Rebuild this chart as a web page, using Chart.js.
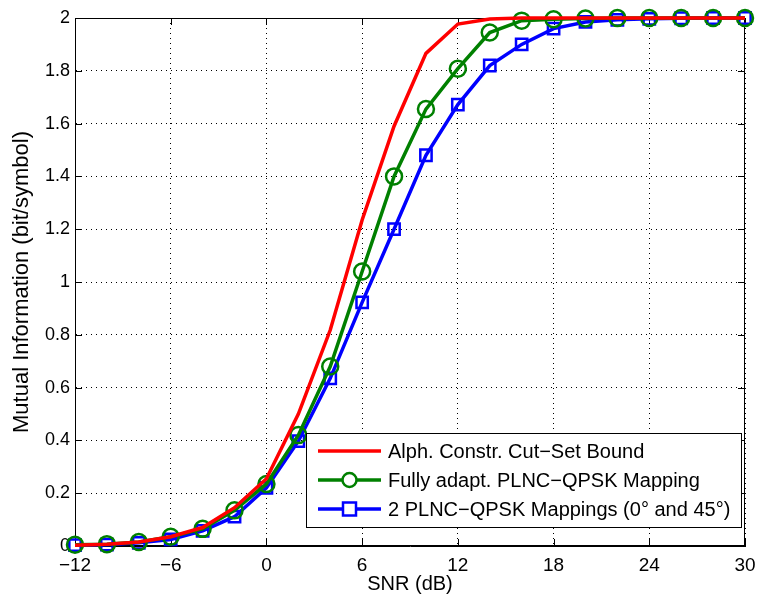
<!DOCTYPE html>
<html>
<head>
<meta charset="utf-8">
<script src="https://cdn.jsdelivr.net/npm/chart.js@4.4.0/dist/chart.umd.min.js"></script>
<style>
  html, body { margin: 0; padding: 0; background: #fff; }
  #wrap { width: 758px; height: 601px; }
</style>
</head>
<body>
<div id="wrap"><canvas id="chart" width="758" height="601"></canvas></div>
<script>
const snr = [-12, -10, -8, -6, -4, -2, 0, 2, 4, 6, 8, 10, 12, 14, 16, 18, 20, 22, 24, 26, 28, 30]

const cutSet = [0.003, 0.007, 0.015, 0.035, 0.07, 0.145, 0.255, 0.5, 0.818, 1.235, 1.59, 1.866, 1.977, 1.996, 2.0, 2.0, 2.0, 2.0, 2.0, 2.0, 2.0, 2.0]
const fullyAdapt = [0.005, 0.007, 0.015, 0.035, 0.065, 0.135, 0.235, 0.42, 0.68, 1.04, 1.40, 1.655, 1.808, 1.945, 1.99, 1.995, 1.998, 2.0, 2.0, 2.0, 2.0, 2.0]
const twoMappings = [0.003, 0.005, 0.012, 0.025, 0.057, 0.111, 0.22, 0.397, 0.635, 0.923, 1.20, 1.48, 1.672, 1.82, 1.90, 1.96, 1.985, 1.993, 1.997, 1.999, 2.0, 2.0]

const xTicks = [-12, -6, 0, 6, 12, 18, 24, 30]
const yTicks = [0, 0.2, 0.4, 0.6, 0.8, 1, 1.2, 1.4, 1.6, 1.8, 2]

const labels = [
    "Alph. Constr. Cut\u2212Set Bound",
    "Fully adapt. PLNC\u2212QPSK Mapping",
    "2 PLNC\u2212QPSK Mappings (0\u00b0 and 45\u00b0)"
]

const FONT = "'Liberation Sans', Arial, Helvetica, sans-serif"

function pts(ys) {
    return snr.map((x, i) => ({ x: x, y: ys[i] }))
}

function fmt(v) {
    return String(v).replace("-", "\u2212")
}

// box round the plot plus inward tick marks, like matlab
const boxPlugin = {
    id: "box",
    beforeDatasetsDraw(chart) {
        const ctx = chart.ctx
        const a = chart.chartArea
        const xs = chart.scales.x
        const ys = chart.scales.y
        ctx.save()
        ctx.strokeStyle = "#000"
        ctx.lineWidth = 1
        ctx.setLineDash([])
        ctx.strokeRect(a.left + 0.5, a.top + 0.5, a.right - a.left - 1, a.bottom - a.top - 1)
        ctx.beginPath()
        xTicks.forEach(t => {
            const px = Math.round(xs.getPixelForValue(t)) + 0.5
            ctx.moveTo(px, a.bottom); ctx.lineTo(px, a.bottom - 7)
            ctx.moveTo(px, a.top); ctx.lineTo(px, a.top + 7)
        })
        yTicks.forEach(t => {
            const py = Math.round(ys.getPixelForValue(t)) + 0.5
            ctx.moveTo(a.left, py); ctx.lineTo(a.left + 7, py)
            ctx.moveTo(a.right, py); ctx.lineTo(a.right - 7, py)
        })
        ctx.stroke()
        ctx.restore()
    }
}

// legend box inside the plot, bottom right
const legendPlugin = {
    id: "boxLegend",
    afterDraw(chart) {
        const ctx = chart.ctx
        const left = 306, top = 433, right = 742, bottom = 528
        const rows = [451, 480, 509]
        ctx.save()
        ctx.fillStyle = "#fff"
        ctx.fillRect(left, top, right - left, bottom - top)
        ctx.strokeStyle = "#000"
        ctx.lineWidth = 1
        ctx.strokeRect(left + 0.5, top + 0.5, right - left - 1, bottom - top - 1)
        chart.data.datasets.forEach((ds, i) => {
            const y = rows[i]
            ctx.strokeStyle = ds.borderColor
            ctx.lineWidth = 3.5
            ctx.beginPath()
            ctx.moveTo(318, y); ctx.lineTo(381, y)
            ctx.stroke()
            ctx.lineWidth = 2.5
            if (ds.pointStyle === "circle") {
                ctx.beginPath()
                ctx.arc(349.5, y, 7, 0, Math.PI * 2)
                ctx.fillStyle = "#fff"
                ctx.fill()
                ctx.stroke()
            } else if (ds.pointStyle === "rect") {
                ctx.fillStyle = "#fff"
                ctx.fillRect(343, y - 6.5, 13, 13)
                ctx.strokeRect(343, y - 6.5, 13, 13)
            }
            ctx.fillStyle = "#000"
            ctx.font = "20px " + FONT
            ctx.textBaseline = "middle"
            ctx.fillText(ds.label, 388, y + 1)
        })
        ctx.restore()
    }
}

new Chart(document.getElementById("chart").getContext("2d"), {
    type: "line",
    data: {
        datasets: [
            {
                label: labels[0],
                data: pts(cutSet),
                borderColor: "#ff0000",
                borderWidth: 3.5,
                pointRadius: 0,
                pointStyle: false,
                tension: 0,
                clip: false
            },
            {
                label: labels[1],
                data: pts(fullyAdapt),
                borderColor: "#008000",
                backgroundColor: "rgba(255,255,255,0)",
                borderWidth: 3.5,
                pointStyle: "circle",
                pointRadius: 8,
                pointBorderWidth: 2.5,
                pointBackgroundColor: "rgba(255,255,255,0)",
                tension: 0,
                clip: false
            },
            {
                label: labels[2],
                data: pts(twoMappings),
                borderColor: "#0000ff",
                backgroundColor: "rgba(255,255,255,0)",
                borderWidth: 3.5,
                pointStyle: "rect",
                pointRadius: 8,
                pointBorderWidth: 2.5,
                pointBackgroundColor: "rgba(255,255,255,0)",
                tension: 0,
                clip: false
            }
        ]
    },
    options: {
        responsive: false,
        animation: false,
        events: [],
        layout: { padding: { top: 18, right: 13, left: 0, bottom: 0 } },
        plugins: {
            legend: { display: false },
            tooltip: { enabled: false }
        },
        scales: {
            x: {
                type: "linear",
                min: -12,
                max: 30,
                afterBuildTicks: s => { s.ticks = xTicks.map(v => ({ value: v })) },
                afterFit: s => { s.height = 55; s.paddingLeft = 0; s.paddingRight = 0 },
                ticks: {
                    color: "#000",
                    font: { size: 19, family: FONT },
                    padding: 8,
                    maxRotation: 0,
                    callback: v => fmt(v)
                },
                grid: { color: "#000", lineWidth: 1, drawTicks: false },
                border: { display: true, color: "#000", dash: [1, 4] },
                title: {
                    display: true,
                    text: "SNR (dB)",
                    color: "#000",
                    font: { size: 20, family: FONT },
                    padding: { top: 0, bottom: 5 }
                }
            },
            y: {
                min: 0,
                max: 2,
                afterBuildTicks: s => { s.ticks = yTicks.map(v => ({ value: v })) },
                afterFit: s => { s.width = 75; s.paddingTop = 0; s.paddingBottom = 0 },
                ticks: {
                    color: "#000",
                    font: { size: 18, family: FONT },
                    padding: 5,
                    callback: v => fmt(v)
                },
                grid: { color: "#000", lineWidth: 1, drawTicks: false },
                border: { display: true, color: "#000", dash: [1, 4] },
                title: {
                    display: true,
                    text: "Mutual Information (bit/symbol)",
                    color: "#000",
                    font: { size: 22, family: FONT },
                    padding: { top: 9, bottom: 0 }
                }
            }
        }
    },
    plugins: [boxPlugin, legendPlugin]
})
</script>
</body>
</html>
